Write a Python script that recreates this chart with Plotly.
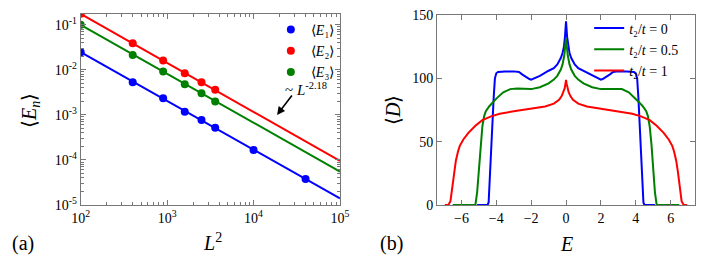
import plotly.graph_objects as go

# ---------------- panel (a) data ----------------
L2_E1 = [100, 400, 900, 1600, 2500, 3600, 10000, 40000]
E1 = [0.0247, 0.0053, 0.00235, 0.00117, 0.00077, 0.00052, 0.000167, 0.000038]
L2_E23 = [100, 400, 900, 1600, 2500, 3600]
E2 = [0.175, 0.039, 0.0161, 0.00845, 0.00533, 0.0036]
E3 = [0.1, 0.0215, 0.00916, 0.0048, 0.00303, 0.00198]
fit_x = [100, 100000]
fit_E1 = [0.0247, 1.4e-5]
fit_E2 = [0.175, 9.5e-5]
fit_E3 = [0.1, 5.5e-5]
logy_ticks = [1e-5, 1e-4, 1e-3, 1e-2, 1e-1]
logy_text = ["10<sup>-5</sup>", "10<sup>-4</sup>", "10<sup>-3</sup>", "10<sup>-2</sup>", "10<sup>-1</sup>"]
logx_ticks = [1e2, 1e3, 1e4, 1e5]
logx_text = ["10<sup>2</sup>", "10<sup>3</sup>", "10<sup>4</sup>", "10<sup>5</sup>"]

# ---------------- panel (b) data ----------------
E_blue = [-5.1, -4.5, -4.44, -4.35, -4.25, -4.15, -4.08, -4.0, -3.9, -3.5, -3.0, -2.7, -2.5, -2.3,
          -2.1, -2.0, -1.9, -1.7, -1.5, -1.0, -0.7, -0.5, -0.3, -0.2, -0.12, -0.06, -0.02, 0.0,
          0.02, 0.06, 0.12, 0.2, 0.3, 0.5, 0.7, 1.0, 1.5, 1.7, 1.9, 2.0, 2.1, 2.3, 2.5, 2.7,
          3.0, 3.5, 3.9, 4.0, 4.08, 4.15, 4.25, 4.35, 4.44, 4.5, 5.1]
D_blue = [0, 0, 2, 30, 55, 85, 100, 104, 105, 105.5, 105.5, 105, 103, 101,
          99.5, 99, 99.5, 101, 102, 106, 108, 111, 116, 120, 125, 133, 141, 145,
          141, 133, 125, 120, 116, 111, 108, 106, 102, 101, 99.5, 99, 99.5, 101, 103, 105,
          105.5, 105.5, 105, 104, 100, 85, 55, 30, 2, 0, 0]
E_green = [-6.5, -5.2, -5.1, -5.0, -4.9, -4.8, -4.7, -4.6, -4.4, -4.2, -4.0, -3.6, -3.2, -2.8,
           -2.4, -2.0, -1.5, -1.0, -0.7, -0.5, -0.3, -0.2, -0.1, -0.04, 0.0,
           0.04, 0.1, 0.2, 0.3, 0.5, 0.7, 1.0, 1.5, 2.0, 2.4, 2.8, 3.2, 3.6, 4.0, 4.2, 4.4,
           4.6, 4.7, 4.8, 4.9, 5.0, 5.1, 5.2, 6.5]
D_green = [0, 0, 10, 28, 48, 62, 70, 74, 78, 81, 84, 89, 91.5, 92,
           91.5, 91.5, 93, 96, 99, 102, 107, 111, 118, 126, 131.5,
           126, 118, 111, 107, 102, 99, 96, 93, 91.5, 91.5, 92, 91.5, 89, 84, 81, 78,
           74, 70, 62, 48, 28, 10, 0, 0]
E_red = [-6.95, -6.75, -6.63, -6.52, -6.42, -6.32, -6.2, -6.1, -5.9, -5.6, -5.2, -4.8, -4.3,
         -3.8, -3.0, -2.0, -1.2, -0.7, -0.4, -0.25, -0.15, -0.08, -0.03, 0.0,
         0.03, 0.08, 0.15, 0.25, 0.4, 0.7, 1.2, 2.0, 3.0, 3.8, 4.3, 4.8, 5.2, 5.6, 5.9,
         6.1, 6.2, 6.32, 6.42, 6.52, 6.63, 6.75, 6.95]
D_red = [0, 0, 3, 14, 26, 35, 42, 46.5, 51.5, 57, 62.5, 67, 70,
         72, 74, 76, 77.8, 80, 83, 86, 89, 92, 96, 98.7,
         96, 92, 89, 86, 83, 80, 77.8, 76, 74, 72, 70, 67, 62.5, 57, 51.5,
         46.5, 42, 35, 26, 14, 3, 0, 0]
E_ticks = [-6, -4, -2, 0, 2, 4, 6]
D_ticks = [0, 50, 100, 150]

BLUE, RED, GREEN = "#0000ff", "#ff0000", "#008000"
FONT = "Liberation Serif"

fig = go.Figure()

# panel (a)
for xs, ys, c in [(fit_x, fit_E1, BLUE), (fit_x, fit_E2, RED), (fit_x, fit_E3, GREEN)]:
    fig.add_trace(go.Scatter(x=xs, y=ys, mode="lines", line=dict(color=c, width=2),
                             showlegend=False, xaxis="x", yaxis="y"))
for xs, ys, c, name in [(L2_E1, E1, BLUE, "⟨<i>E</i>₁⟩"),
                        (L2_E23, E2, RED, "⟨<i>E</i>₂⟩"),
                        (L2_E23, E3, GREEN, "⟨<i>E</i>₃⟩")]:
    fig.add_trace(go.Scatter(x=xs, y=ys, mode="markers", name=name,
                             marker=dict(color=c, size=8), xaxis="x", yaxis="y",
                             legend="legend"))

# panel (b)
for xs, ys, c, name in [(E_blue, D_blue, BLUE, "<i>t</i>₂/<i>t</i> = 0"),
                        (E_green, D_green, GREEN, "<i>t</i>₂/<i>t</i> = 0.5"),
                        (E_red, D_red, RED, "<i>t</i>₂/<i>t</i> = 1")]:
    fig.add_trace(go.Scatter(x=xs, y=ys, mode="lines", name=name,
                             line=dict(color=c, width=2), xaxis="x2", yaxis="y2",
                             legend="legend2"))

axcommon = dict(showline=True, linecolor="#777777", linewidth=1, mirror="ticks",
                ticks="inside", tickcolor="#777777", ticklen=5, showgrid=False,
                zeroline=False, automargin=False,
                tickfont=dict(family=FONT, size=14, color="black"))

def txt(text, x, y, size=20, angle=0):
    return dict(text=text, x=x / 709, y=1 - y / 259, xref="paper", yref="paper",
                showarrow=False, textangle=angle, font=dict(family=FONT, size=size),
                xanchor="center", yanchor="middle")

fig.update_layout(
    width=709, height=259, margin=dict(l=0, r=0, t=0, b=0, autoexpand=False),
    paper_bgcolor="white", plot_bgcolor="white",
    font=dict(family=FONT, size=14, color="black"),
    xaxis=dict(type="log", range=[2, 5], domain=[0.1138, 0.4795], anchor="y",
               tickvals=logx_ticks, ticktext=logx_text,
               minor=dict(ticks="inside", ticklen=3, tickcolor="#777777", dtick="D1"),
               **axcommon),
    yaxis=dict(type="log", range=[-5, -0.76], domain=[0.2085, 0.946], anchor="x",
               tickvals=logy_ticks, ticktext=logy_text,
               minor=dict(ticks="inside", ticklen=3, tickcolor="#777777", dtick="D1"),
               **axcommon),
    xaxis2=dict(range=[-7.4, 7.4], domain=[0.6164, 0.9803], anchor="y2",
                tickvals=E_ticks, **axcommon),
    yaxis2=dict(range=[0, 150], domain=[0.2085, 0.942], anchor="x2",
                tickvals=D_ticks, **axcommon),
    legend=dict(x=0.382, y=0.946, xanchor="left", yanchor="top",
                bgcolor="rgba(0,0,0,0)", font=dict(family=FONT, size=14),
                itemwidth=30, tracegroupgap=0),
    legend2=dict(x=0.831, y=0.952, xanchor="left", yanchor="top",
                 bgcolor="rgba(0,0,0,0)", font=dict(family=FONT, size=14),
                 itemwidth=30, tracegroupgap=0),
    annotations=[
        txt("(a)", 23, 243),
        txt("(b)", 391, 243),
        txt("<i>L</i><sup>2</sup>", 213, 242),
        txt("<i>E</i>", 566, 244),
        txt("⟨<i>E<sub>n</sub></i>⟩", 30, 110, angle=-90),
        txt("⟨<i>D</i>⟩", 393, 110, angle=-90),
        txt("~ <i>L</i><sup>-2.18</sup>", 306, 89, size=15),
        dict(text="", x=4.272, y=-3.0, xref="x", yref="y", showarrow=True,
             ax=16, ay=-21, arrowhead=2, arrowsize=1, arrowwidth=1.6, arrowcolor="black"),
    ],
)

fig.write_html("out.html", config={"displayModeBar": False},
               post_script="document.body.style.margin='0';")
